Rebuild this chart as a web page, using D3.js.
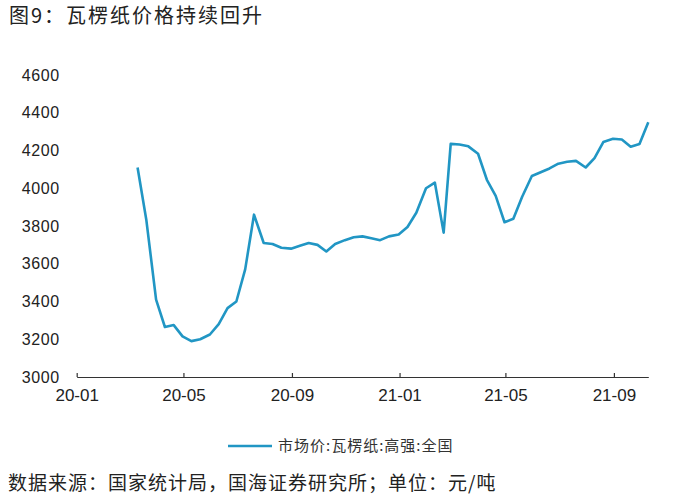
<!DOCTYPE html>
<html>
<head>
<meta charset="utf-8">
<script src="https://cdn.jsdelivr.net/npm/d3@7"></script>
<style>
  body { margin: 0; background: #fff; }
  svg { display: block; }
</style>
</head>
<body>
<svg id="chart" width="676" height="500"></svg>
<script>
// 旬度数据（上旬/中旬/下旬），元/吨
const dates = [
  "2020-03-10","2020-03-20","2020-03-31","2020-04-10","2020-04-20","2020-04-30",
  "2020-05-10","2020-05-20","2020-05-31","2020-06-10","2020-06-20","2020-06-30",
  "2020-07-10","2020-07-20","2020-07-31","2020-08-10","2020-08-20","2020-08-31",
  "2020-09-10","2020-09-20","2020-09-30","2020-10-10","2020-10-20","2020-10-31",
  "2020-11-10","2020-11-20","2020-11-30","2020-12-10","2020-12-20","2020-12-31",
  "2021-01-10","2021-01-20","2021-01-31","2021-02-10","2021-02-20","2021-02-28",
  "2021-03-10","2021-03-20","2021-03-31","2021-04-10","2021-04-20","2021-04-30",
  "2021-05-10","2021-05-20","2021-05-31","2021-06-10","2021-06-20","2021-06-30",
  "2021-07-10","2021-07-20","2021-07-31","2021-08-10","2021-08-20","2021-08-31",
  "2021-09-10","2021-09-20","2021-09-30","2021-10-10"
];
const prices = [
  4110, 3830, 3410, 3265, 3275, 3215,
  3190, 3200, 3225, 3280, 3365, 3400,
  3570, 3860, 3710, 3705, 3685, 3680,
  3695, 3710, 3700, 3665, 3705, 3725,
  3740, 3745, 3735, 3725, 3745, 3755,
  3795, 3870, 4000, 4030, 3765, 4235,
  4232, 4222, 4183, 4045, 3960, 3820,
  3838, 3955, 4065, 4085, 4105, 4130,
  4140, 4145, 4110, 4160, 4245, 4262,
  4258, 4220, 4235, 4350
];
const yTicks = [3000, 3200, 3400, 3600, 3800, 4000, 4200, 4400, 4600];
const xTickLabels = ["20-01", "20-05", "20-09", "21-01", "21-05", "21-09"];
const seriesName = "市场价:瓦楞纸:高强:全国";
const title = "图9：瓦楞纸价格持续回升";
const source = "数据来源：国家统计局，国海证券研究所；单位：元/吨";

const parse = d3.timeParse("%Y-%m-%d");
const data = dates.map((d, i) => ({ date: parse(d), value: prices[i] }));

const svg = d3.select("#chart");
const cjk = "'Noto Sans CJK SC', 'Noto Sans', sans-serif";
const num = "'Liberation Sans', Arial, sans-serif";
const lineColor = "#2196c4";

const x = d3.scaleTime()
    .domain([parse("2020-01-01"), parse("2021-10-10")])
    .range([76.7, 648.3]);
const y = d3.scaleLinear().domain([3000, 4600]).range([377, 75]);

// title
svg.append("text")
    .attr("x", 9).attr("y", 23)
    .attr("font-family", cjk).attr("font-size", 20)
    .attr("letter-spacing", 2).attr("fill", "#222")
    .text(title);

// y axis (labels only)
const yAxis = svg.append("g")
    .attr("transform", "translate(76.7,0)")
    .call(d3.axisLeft(y).tickValues(yTicks).tickFormat(d3.format("d"))
        .tickSize(0).tickPadding(17));
yAxis.select(".domain").remove();
yAxis.selectAll("text")
    .attr("font-family", num).attr("font-size", 16)
    .attr("letter-spacing", 0.6).attr("fill", "#222");

// x axis
const tickDates = xTickLabels.map(s => d3.timeParse("%y-%m")(s));
const xAxis = svg.append("g")
    .attr("transform", "translate(0,377)")
    .call(d3.axisBottom(x).tickValues(tickDates)
        .tickFormat(d3.timeFormat("%y-%m"))
        .tickSizeInner(-4).tickSizeOuter(0).tickPadding(12));
xAxis.select(".domain").attr("stroke", "#333").attr("stroke-width", 1.2);
xAxis.selectAll(".tick line").attr("stroke", "#333").attr("stroke-width", 1.2);
xAxis.selectAll("text")
    .attr("font-family", num).attr("font-size", 17)
    .attr("fill", "#222");

// series line
svg.append("path")
    .datum(data)
    .attr("fill", "none")
    .attr("stroke", lineColor)
    .attr("stroke-width", 2.6)
    .attr("stroke-linejoin", "round")
    .attr("d", d3.line().x(d => x(d.date)).y(d => y(d.value)));

// legend
const legend = svg.append("g").attr("transform", "translate(228,446)");
legend.append("line")
    .attr("x1", 0).attr("x2", 44).attr("y1", 0).attr("y2", 0)
    .attr("stroke", lineColor).attr("stroke-width", 2.6);
legend.append("text")
    .attr("x", 50).attr("y", 5)
    .attr("font-family", cjk).attr("font-size", 15)
    .attr("letter-spacing", 1).attr("fill", "#333")
    .text(seriesName);

// source note
svg.append("text")
    .attr("x", 8).attr("y", 490)
    .attr("font-family", cjk).attr("font-size", 19)
    .attr("letter-spacing", 1).attr("fill", "#222")
    .text(source);
</script>
</body>
</html>
